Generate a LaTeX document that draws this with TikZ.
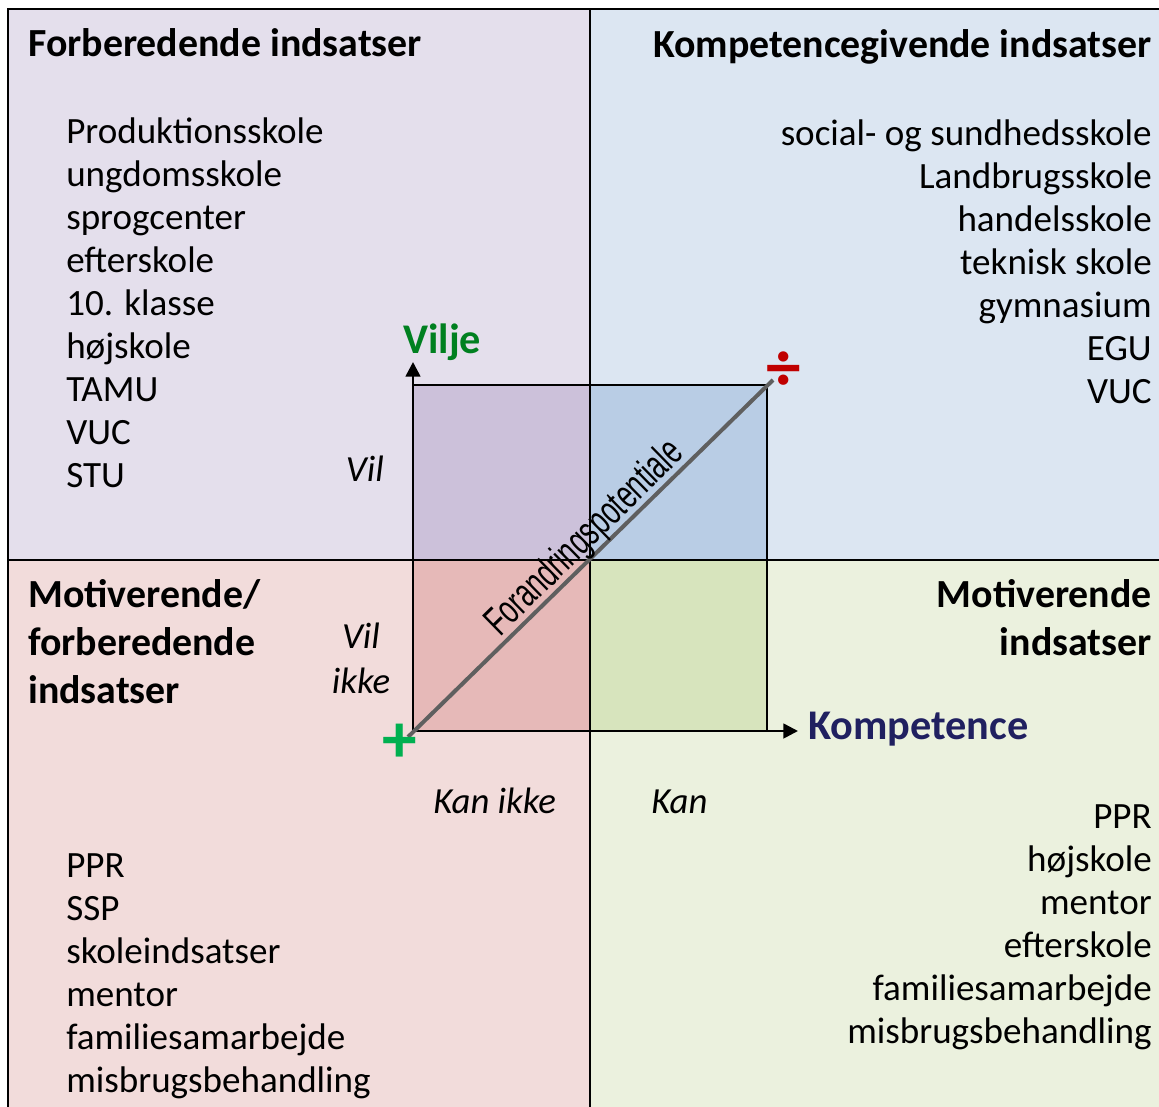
\documentclass[tikz,border=0pt]{standalone}
\usepackage{fontspec}
\setmainfont{Carlito}
\newfontfamily\narrowfont[FakeStretch=0.66]{Liberation Sans}
\usetikzlibrary{arrows.meta}

\definecolor{lilla}{RGB}{228,223,236}
\definecolor{blaa}{RGB}{220,230,242}
\definecolor{rosa}{RGB}{242,220,219}
\definecolor{lysgroen}{RGB}{235,241,222}
\definecolor{lillamork}{RGB}{204,193,218}
\definecolor{blaamork}{RGB}{185,205,229}
\definecolor{rosamork}{RGB}{230,185,184}
\definecolor{groenmork}{RGB}{215,228,189}
\definecolor{viljegroen}{RGB}{0,128,32}
\definecolor{kompblaa}{RGB}{32,32,96}
\definecolor{plusgroen}{RGB}{0,176,80}
\definecolor{minusroed}{RGB}{192,0,0}
\definecolor{linjegraa}{RGB}{95,95,95}

\begin{document}
\begin{tikzpicture}[x=0.75pt,y=0.75pt,yscale=-1,xscale=1,
  hoved/.style={font=\fontsize{29.9pt}{36pt}\selectfont\bfseries, inner sep=0pt},
  punkt/.style={font=\fontsize{27.8pt}{32pt}\selectfont, inner sep=0pt},
  pol/.style={font=\fontsize{27.6pt}{32pt}\selectfont\itshape, inner sep=0pt},
  aksenavn/.style={font=\fontsize{31.7pt}{36pt}\selectfont\bfseries, inner sep=0pt},
  akse/.style={line width=2pt, -{Triangle[length=11pt,width=11pt]}},
  tegn/.style={font=\fontsize{52pt}{52pt}\selectfont\bfseries, inner sep=0pt}]
\path[use as bounding box] (0,0) rectangle (1159,1106); %picture is 1159 x 1106
\clip (0,0) rectangle (1159,1106);

%Shape: Quadrants
\fill [lilla] (8,9) rectangle (590,560);
\fill [blaa] (590,9) rectangle (1165,560);
\fill [rosa] (8,560) rectangle (590,1110);
\fill [lysgroen] (590,560) rectangle (1165,1110);
%Shape: Inner square
\fill [lillamork] (413,385) rectangle (590,560);
\fill [blaamork] (590,385) rectangle (767,560);
\fill [rosamork] (413,560) rectangle (590,731);
\fill [groenmork] (590,560) rectangle (767,731);

%Straight Lines
\draw [line width=2pt] (8,9) rectangle (1165,1110);
\draw [line width=1.6pt] (590,9) -- (590,1110);
\draw [line width=1.6pt] (8,560) -- (1165,560);
\draw [line width=2pt] (413,385) rectangle (767,731);

%Axes
\coordinate (origo) at (413,731);
\coordinate (viljetip) at (413,362);
\coordinate (komptip) at (798,731);
\draw [akse] (origo) -- (viljetip);
\draw [akse] (origo) -- (komptip);

%Diagonal
\coordinate (start) at (408,737);
\coordinate (slut) at (773,380);
\draw [linjegraa, line width=3pt] (start) -- node [pos=0.52, anchor=south, rotate=44.4, inner xsep=0pt, inner ysep=-2.5pt, black, font=\narrowfont\fontsize{30.5pt}{34pt}\selectfont] (forandring) {Forandringspotentiale} (slut);

% Text Node
\draw (400,743) node [tegn, plusgroen] (plus) {+};
% Text Node
\draw (784,371) node [tegn, minusroed] (divider) {÷};

% Text Node
\draw (403,353) node [anchor=base west] [aksenavn, viljegroen] (vilje) {Vilje};
% Text Node
\draw (808,739) node [anchor=base west] [aksenavn, kompblaa] (kompetence) {Kompetence};

% Text Node
\draw (384,481) node [anchor=base east] [pol] (vil) {Vil};
% Text Node
\draw (361,648) node [anchor=base] [pol] (vilikke1) {Vil};
\draw (361,693) node [anchor=base] [pol] (vilikke2) {ikke};
% Text Node
\draw (433,813) node [anchor=base west] [pol] (kanikke) {Kan ikke};
% Text Node
\draw (651,813) node [anchor=base west] [pol] (kan) {Kan};

% Text Node
\draw (28,56) node [anchor=base west] [hoved] (forbhoved) {Forberedende indsatser};
% Text Node
\draw (1152,58) node [anchor=base east] [hoved] (komphoved) {Kompetencegivende indsatser};
% Text Node
\draw (28,607) node [anchor=base west] [hoved] (motforb1) {Motiverende/};
\draw (28,655) node [anchor=base west] [hoved] (motforb2) {forberedende};
\draw (28,703) node [anchor=base west] [hoved] (motforb3) {indsatser};
% Text Node
\draw (1152,607) node [anchor=base east] [hoved] (mothoved1) {Motiverende};
\draw (1152,655) node [anchor=base east] [hoved] (mothoved2) {indsatser};

% Text Node
\draw (66,143) node [anchor=base west] [punkt] (fi1) {Produktionsskole};
\draw (66,186) node [anchor=base west] [punkt] (fi2) {ungdomsskole};
\draw (66,229) node [anchor=base west] [punkt] (fi3) {sprogcenter};
\draw (66,272) node [anchor=base west] [punkt] (fi4) {efterskole};
\draw (66,315) node [anchor=base west] [punkt] (fi5) {10. klasse};
\draw (66,358) node [anchor=base west] [punkt] (fi6) {højskole};
\draw (66,401) node [anchor=base west] [punkt] (fi7) {TAMU};
\draw (66,444) node [anchor=base west] [punkt] (fi8) {VUC};
\draw (66,487) node [anchor=base west] [punkt] (fi9) {STU};

% Text Node
\draw (1152,145) node [anchor=base east] [punkt] (ki1) {social- og sundhedsskole};
\draw (1152,188) node [anchor=base east] [punkt] (ki2) {Landbrugsskole};
\draw (1152,231) node [anchor=base east] [punkt] (ki3) {handelsskole};
\draw (1152,274) node [anchor=base east] [punkt] (ki4) {teknisk skole};
\draw (1152,317) node [anchor=base east] [punkt] (ki5) {gymnasium};
\draw (1152,360) node [anchor=base east] [punkt] (ki6) {EGU};
\draw (1152,403) node [anchor=base east] [punkt] (ki7) {VUC};

% Text Node
\draw (66,877) node [anchor=base west] [punkt] (mf1) {PPR};
\draw (66,920) node [anchor=base west] [punkt] (mf2) {SSP};
\draw (66,963) node [anchor=base west] [punkt] (mf3) {skoleindsatser};
\draw (66,1006) node [anchor=base west] [punkt] (mf4) {mentor};
\draw (66,1049) node [anchor=base west] [punkt] (mf5) {familiesamarbejde};
\draw (66,1092) node [anchor=base west] [punkt] (mf6) {misbrugsbehandling};

% Text Node
\draw (1152,828) node [anchor=base east] [punkt] (mi1) {PPR};
\draw (1152,871) node [anchor=base east] [punkt] (mi2) {højskole};
\draw (1152,914) node [anchor=base east] [punkt] (mi3) {mentor};
\draw (1152,957) node [anchor=base east] [punkt] (mi4) {efterskole};
\draw (1152,1000) node [anchor=base east] [punkt] (mi5) {familiesamarbejde};
\draw (1152,1043) node [anchor=base east] [punkt] (mi6) {misbrugsbehandling};

\end{tikzpicture}
\end{document}
